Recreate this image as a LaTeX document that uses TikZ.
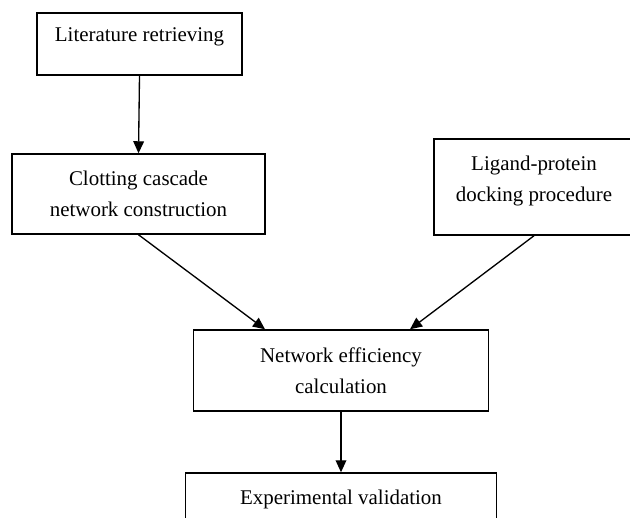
\documentclass[tikz,border=0pt]{standalone}
\usepackage{fontspec}
\setmainfont{Liberation Serif}
\usetikzlibrary{arrows.meta,calc}

\begin{document}
\begin{tikzpicture}[x=0.75pt,y=-0.75pt,
	every node/.style={rectangle, draw, line width=1.1pt, align=center, inner sep=0pt,
		font=\fontsize{15.7}{23}\selectfont},
	flow/.style={line width=1pt, -{Triangle[length=9pt,width=8pt]}}]
\useasboundingbox (0,0) rectangle (630,517);
\clip (0,0) rectangle (630,517);

\foreach \x/\y/\w/\h/\d/\n/\t in {
	139.5/44/205/62/14pt/lit/{Literature retrieving}%
	,138.5/194/253/80/0pt/clot/{Clotting cascade\\network construction}%
	,534/187/200/96/12pt/lig/{Ligand-protein\\docking procedure}%
	,341/370.5/295/81/0pt/net/{Network efficiency\\calculation}%
	,341/497/311/48/0pt/exp/{Experimental validation}%
}{
	\node[minimum width=\w*0.75pt, minimum height=\h*0.75pt, text depth=\d](\n) at(\x,\y) {\t};
}

\coordinate (netL) at ($(net.north)+(-76,0)$);
\coordinate (netR) at ($(net.north)+(69,0)$);

\foreach \u/\v in {
	lit.south/clot.north,clot.south/netL%
	,lig.south/netR,net.south/exp.north%
}{
	\draw[flow] (\u) -- (\v);
}
\end{tikzpicture}
\end{document}
